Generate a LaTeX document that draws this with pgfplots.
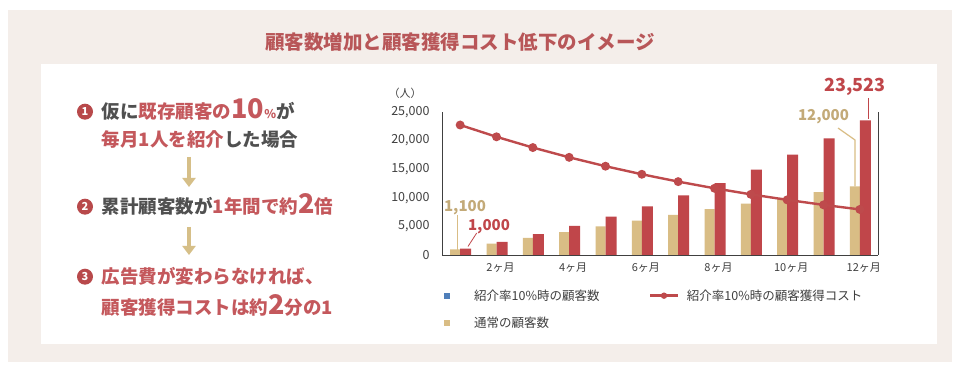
\documentclass[border=0pt]{standalone}
\usepackage{pgfplots}
\pgfplotsset{compat=1.18}
\usetikzlibrary{arrows.meta}
\usepackage{fontspec}
\setmainfont{Noto Sans CJK JP}
\definecolor{bg}{HTML}{F4EEEA}
\definecolor{barred}{HTML}{C0464A}
\definecolor{linered}{HTML}{BE4A4C}
\definecolor{beige}{HTML}{D9BD85}
\definecolor{titlered}{HTML}{B85658}
\definecolor{txtred}{HTML}{C4585C}
\definecolor{txtgrey}{HTML}{505050}
\definecolor{legblue}{HTML}{4F7FBA}
\definecolor{axgrey}{HTML}{404040}
\definecolor{circ}{HTML}{B8494B}
\definecolor{arrowc}{HTML}{D6BF88}
\newcommand{\fs}[1]{\fontsize{#1}{#1}\selectfont}
\begin{document}
\begin{tikzpicture}[x=1pt,y=1pt]
\fill[white] (0,0) rectangle (962,366);
\fill[bg] (8,4) rectangle (952,356);
\fill[white] (41,22) rectangle (937,302);
% title
\node[text=titlered,font=\fs{19.5}\bfseries] at (460,324) {顧客数増加と顧客獲得コスト低下のイメージ};
% left panel
\foreach \yy/\n in {254.3/1,159.3/2,89.3/3}{
  \fill[circ] (85,\yy) circle (8);
  \node[text=white,font=\fs{11}\bfseries] at (85,\yy) {\n};
}
\node[anchor=base west,inner sep=0pt,font=\fs{18.5}\bfseries] at (101.7,247.3)
  {\textcolor{txtgrey}{仮に}\textcolor{txtred}{既存顧客の{\fs{27}10}{\fs{12}\%}}\textcolor{txtgrey}{が}};
\node[anchor=base west,inner sep=0pt,font=\fs{18.5}\bfseries] at (101.7,219)
  {\textcolor{txtred}{毎月1人を紹介}\textcolor{txtgrey}{した場合}};
\draw[arrowc,line width=3.5pt,-{Triangle[width=13pt,length=9pt]}] (189,209) -- (189,179);
\node[anchor=base west,inner sep=0pt,font=\fs{18.5}\bfseries] at (101.7,152.3)
  {\textcolor{txtgrey}{累計顧客数が}\textcolor{txtred}{1年間で約{\fs{27}2}倍}};
\draw[arrowc,line width=3.5pt,-{Triangle[width=13pt,length=9pt]}] (189,139) -- (189,111);
\node[anchor=base west,inner sep=0pt,font=\fs{18.5}\bfseries,text=txtred] at (101.7,82.3)
  {広告費が変わらなければ、};
\node[anchor=base west,inner sep=0pt,font=\fs{18.5}\bfseries,text=txtred] at (101.7,51)
  {顧客獲得コストは約{\fs{27}2}分の1};
% chart
\begin{axis}[at={(442pt,111pt)}, anchor=south west, scale only axis,
  width=436pt, height=143pt,
  xmin=0.5, xmax=12.5, ymin=0, ymax=25000,
  axis x line*=bottom, axis y line*=left,
  axis line style={axgrey, line width=0.8pt},
  major tick length=0pt,
  scaled y ticks=false,
  xtick={2,4,6,8,10,12},
  xticklabels={2ヶ月,4ヶ月,6ヶ月,8ヶ月,10ヶ月,12ヶ月},
  ytick={0,5000,10000,15000,20000,25000},
  yticklabels={0,{5,000},{10,000},{15,000},{20,000},{25,000}},
  tick label style={text=axgrey},
  yticklabel style={font=\fs{12.5}, xshift=-9pt},
  xticklabel style={font=\fs{11}, yshift=-4pt, xshift=4pt},
  clip=false]
\addplot[ybar, bar width=10pt, bar shift=-5pt, fill=beige, draw=none]
  coordinates {(1,1000) (2,2000) (3,3000) (4,4000) (5,5000) (6,6000) (7,7000) (8,8000) (9,9000) (10,10000) (11,11000) (12,12000)};
\addplot[ybar, bar width=11pt, bar shift=5.5pt, fill=barred, draw=none]
  coordinates {(1,1100) (2,2310) (3,3641) (4,5105) (5,6716) (6,8487) (7,10436) (8,12579) (9,14937) (10,17531) (11,20384) (12,23523)};
\addplot[linered, line width=2.4pt, mark=*, mark size=3.2pt]
  coordinates {(1,22727) (2,20661) (3,18783) (4,17075) (5,15523) (6,14112) (7,12829) (8,11663) (9,10603) (10,9639) (11,8763) (12,7966)};
\draw[axgrey, line width=0.8pt] (rel axis cs:1,0) -- (rel axis cs:1,1);
\end{axis}
% y unit
\node[text=axgrey,font=\fs{11}] at (405,273) {（人）};
% data labels
\node[text=barred,font=\fs{18}\bfseries] at (855,279.3) {23,523};
\draw[barred,line width=0.8pt] (868,268) -- (868,246.5);
\node[text=beige!90!black,font=\fs{15}\bfseries] at (823.5,249.3) {12,000};
\draw[beige,line width=1.2pt] (838,238) -- (855,226) -- (855,179.5);
\node[text=beige!90!black,font=\fs{15}\bfseries] at (465,158) {1,100};
\draw[beige,line width=0.8pt] (457,151) -- (457,116);
\node[text=barred,font=\fs{15}\bfseries] at (489,139.3) {1,000};
\draw[barred,line width=0.8pt] (476.7,133) -- (468,119.5);
% legend
\fill[legblue] (443.7,67.3) rectangle (449.7,73.3);
\node[anchor=west,inner sep=0pt,text=axgrey,font=\fs{12.5}] at (474,70.3) {紹介率10\%時の顧客数};
\draw[linered,line width=2.4pt] (650,70.3) -- (678,70.3);
\fill[linered] (664,70.3) circle (3.2);
\node[anchor=west,inner sep=0pt,text=axgrey,font=\fs{12.5}] at (686.7,70.3) {紹介率10\%時の顧客獲得コスト};
\fill[beige] (443.7,40.3) rectangle (449.7,46.3);
\node[anchor=west,inner sep=0pt,text=axgrey,font=\fs{12.5}] at (474,43.3) {通常の顧客数};
\end{tikzpicture}
\end{document}
